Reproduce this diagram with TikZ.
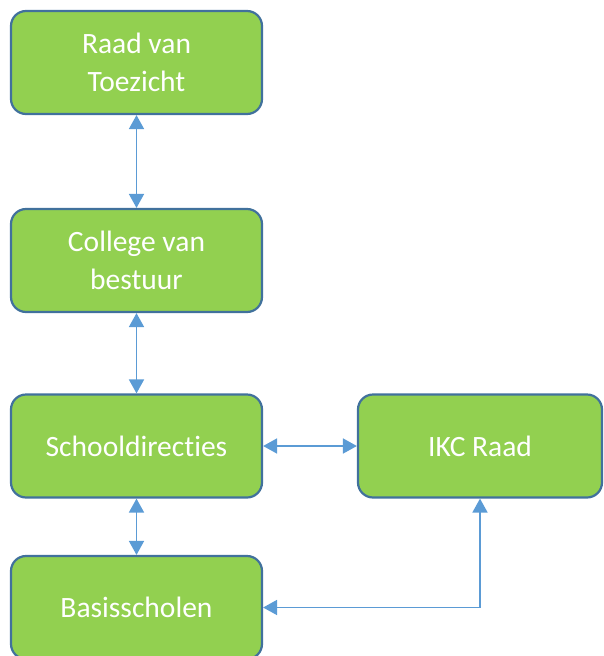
\documentclass[tikz,border=0pt]{standalone}
\usepackage{fontspec}
\setmainfont{Carlito}[Ligatures=NoCommon]
\usetikzlibrary{arrows.meta}

\definecolor{boxgreen}{HTML}{92D050}
\definecolor{boxedge}{HTML}{41719C}
\definecolor{linkblue}{HTML}{5B9BD5}

\begin{document}
\begin{tikzpicture}[x=1pt, y=-1pt,
  orgbox/.style={draw=boxedge, fill=boxgreen, line width=2.2pt, rounded corners=15pt,
    minimum width=251pt, minimum height=103pt, align=center, text=white,
    font=\fontsize{29.5}{38}\selectfont},
  link/.style={{Triangle[length=14pt,width=15pt]}-{Triangle[length=14pt,width=15pt]},
    draw=linkblue, line width=1.8pt}]
  \useasboundingbox (0, 0) rectangle (604, 656);

  \node[orgbox] (raad) at (136.5, 62.5) {Raad van\\Toezicht};
  \node[orgbox] (college) at (136.5, 260.5) {College van\\bestuur};
  \node[orgbox] (directie) at (136.5, 446) {Schooldirecties};
  \node[orgbox, minimum width=244pt] (ikc) at (480, 446) {IKC Raad};
  \node[orgbox] (basis) at (136.5, 607.5) {Basisscholen};

  \draw[link] (raad) -- (college);
  \draw[link] (college) -- (directie);
  \draw[link] (directie) -- (basis);
  \draw[link] (directie) -- (ikc);
  \draw[link] (ikc.south) |- (basis.east);
\end{tikzpicture}
\end{document}
